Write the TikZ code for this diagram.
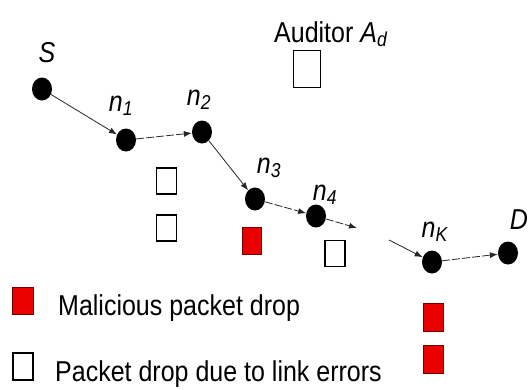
\documentclass[tikz,border=0pt]{standalone}
\usepackage{fontspec}
\setmainfont{Liberation Sans}
\usetikzlibrary{arrows.meta,shapes.geometric}
\newcommand{\vstr}[1]{\scalebox{1}[1.15]{#1}}
\definecolor{dropred}{RGB}{235,0,0}
\begin{document}
\begin{tikzpicture}[x=1pt,y=-1pt,
  dot/.style={ellipse,fill=black,inner sep=0pt,minimum width=20pt,minimum height=23pt},
  wbox/.style={draw=black,line width=1.2pt,fill=white,inner sep=0pt,minimum width=20pt,minimum height=26pt},
  rbox/.style={draw=red!45!black,line width=0.8pt,fill=dropred,inner sep=0pt,minimum width=20pt,minimum height=27pt},
  lbl/.style={inner sep=0pt,font=\fontsize{25}{29}\selectfont},
  conn/.style={draw=black!85,line width=0.8pt,-{Latex[length=8pt,width=6pt]}},
  dconn/.style={conn,dash pattern=on 8pt off 2pt}]
\useasboundingbox (0,0) rectangle (530,389);
% nodes
\node[dot] (S)  at (42,89) {};
\node[dot] (n1) at (126,140) {};
\node[dot] (n2) at (202,132) {};
\node[dot] (n3) at (255,199) {};
\node[dot] (n4) at (316,216) {};
\node[dot] (nK) at (432,262) {};
\node[dot] (D)  at (508,253) {};
\coordinate (c4) at (357,228);
\coordinate (cK) at (389,240);
% labels
\node[lbl] (lS)  at (47,53)  {\vstr{\textit{S}}};
\node[lbl] (l1)  at (121,106) {\vstr{\textit{n}\textsubscript{\textit{1}}}};
\node[lbl] (l2)  at (199,100) {\vstr{\textit{n}\textsubscript{\textit{2}}}};
\node[lbl] (l3)  at (269,168) {\vstr{\textit{n}\textsubscript{\textit{3}}}};
\node[lbl] (l4)  at (325,195) {\vstr{\textit{n}\textsubscript{\textit{4}}}};
\node[lbl] (lK)  at (435,232) {\vstr{\textit{n}\textsubscript{\textit{K}}}};
\node[lbl] (lD)  at (519,220) {\vstr{\textit{D}}};
\node[lbl,anchor=base west] (aud) at (274,42) {\vstr{Auditor \textit{A}\textsubscript{\textit{d}}}};
% connectors
\draw[conn]  (S) -- (n1);
\draw[dconn] (n1) -- (n2);
\draw[conn]  (n2) -- (n3);
\draw[dconn] (n3) -- (n4);
\draw[dconn] (n4) -- (c4);
\draw[conn]  (cK) -- (nK);
\draw[dconn] (nK) -- (D);
% drop boxes
\node[wbox,minimum width=27pt,minimum height=37pt] (audbox) at (307,69) {};
\node[wbox] (w1) at (166.5,181) {};
\node[wbox] (w2) at (166.5,228) {};
\node[rbox,minimum width=19pt] (r3) at (251.5,241) {};
\node[wbox] (w4) at (335,253.5) {};
\node[rbox,minimum height=28pt] (rK1) at (433,317) {};
\node[rbox,minimum height=28pt] (rK2) at (433,359) {};
% legend
\node[rbox,minimum width=21pt] (legr) at (22.5,300.5) {};
\node[wbox,minimum height=27pt] (legw) at (23,366.5) {};
\node[lbl,anchor=base west] (legrt) at (58,315) {\vstr{Malicious packet drop}};
\node[lbl,anchor=base west] (legwt) at (55,381) {\vstr{Packet drop due to link errors}};
\end{tikzpicture}
\end{document}
